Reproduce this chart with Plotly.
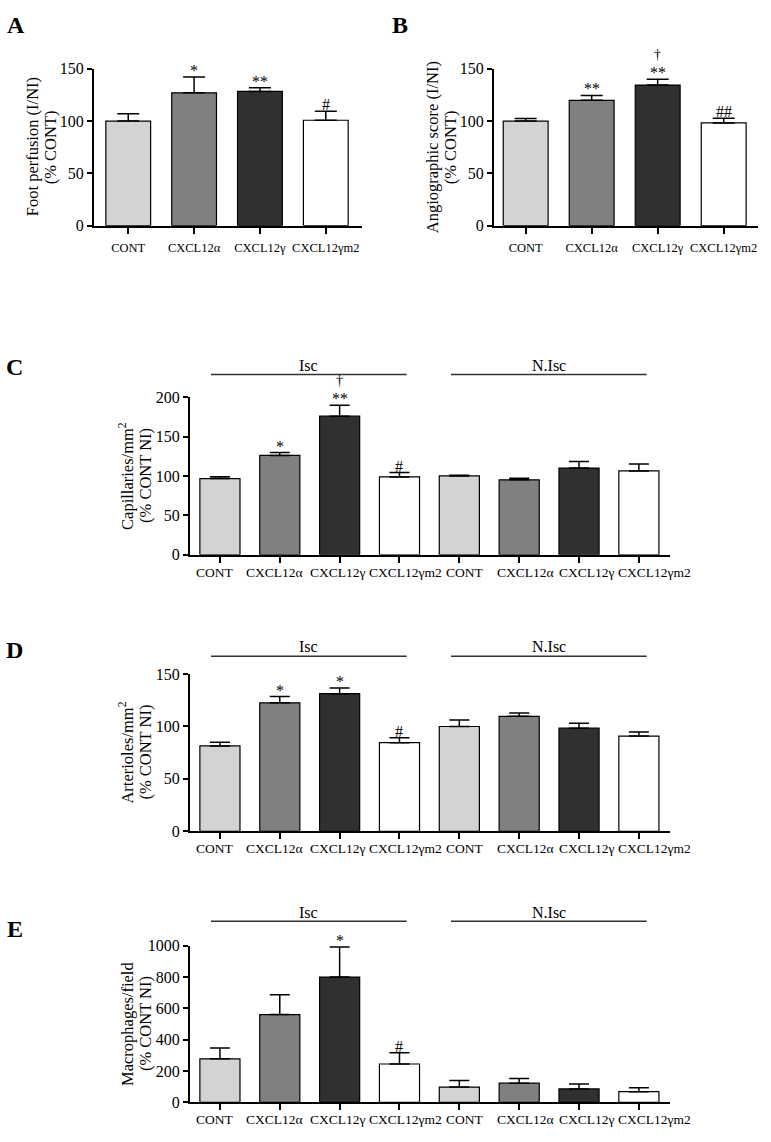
import plotly.graph_objects as go

W, H = 771, 1142
FONT = "Liberation Serif"

# ---------------- data ----------------
cats4 = ["CONT", "CXCL12α", "CXCL12γ", "CXCL12γm2"]
cats8 = cats4 + cats4
groups = ["Isc", "N.Isc"]
colors4 = ["#d3d3d3", "#808080", "#303030", "#ffffff"]

A_mean = [100, 127, 128.4, 100.8]
A_top = [107, 142.2, 131.8, 109.5]
A_sig = ["", "*", "**", "#"]
A_dag = ["", "", "", ""]

B_mean = [100, 119.8, 134.4, 98.2]
B_top = [102.4, 124.5, 140, 102.6]
B_sig = ["", "**", "**", "##"]
B_dag = ["", "", "†", ""]

C_mean = [96.6, 126, 175.8, 98.7, 100, 95, 110, 106.3]
C_top = [98.8, 129.6, 189.6, 104.2, 101, 97.1, 118.3, 115]
C_sig = ["", "*", "**", "#", "", "", "", ""]
C_dag = ["", "", "†", "", "", "", "", ""]

D_mean = [81.4, 122.5, 131.2, 84.5, 99.9, 109.6, 98.3, 90.8]
D_top = [84.9, 128.4, 136.5, 89.2, 106.2, 112.7, 103, 94.6]
D_sig = ["", "*", "*", "#", "", "", "", ""]
D_dag = ["", "", "", "", "", "", "", ""]

E_mean = [278, 560, 799, 245, 98, 123, 86, 69]
E_top = [347, 686, 990, 316, 140, 153, 117, 94]
E_sig = ["", "", "*", "#", "", "", "", ""]
E_dag = ["", "", "", "", "", "", "", ""]

# horizontal nudges (px) of the category labels in the wide panels (style)
LABEL_SHIFT = [-5, -5, -2, 6, 6, 6, 8, 16]


def px(x):
    return x / W


def py(y):
    return 1 - y / H


panels = [
    dict(letter="A", cats=cats4, mean=A_mean, top=A_top, sig=A_sig, dag=A_dag,
         xd=(94, 362), yd=(221, 61.7), xr=[-0.52, 3.55], yr=[0, 150], dt=50,
         t1="Foot perfusion (I/NI)", t2="(% CONT)", tx=(32, 50), lpos=(16, 17),
         bw=0.68, cap=11, groups=False),
    dict(letter="B", cats=cats4, mean=B_mean, top=B_top, sig=B_sig, dag=B_dag,
         xd=(494, 758), yd=(221, 61.7), xr=[-0.48, 3.52], yr=[0, 150], dt=50,
         t1="Angiographic score (I/NI)", t2="(% CONT)", tx=(432, 450), lpos=(400, 17),
         bw=0.68, cap=11, groups=False),
    dict(letter="C", cats=cats8, mean=C_mean, top=C_top, sig=C_sig, dag=C_dag,
         xd=(190, 670), yd=(555, 395), xr=[-0.5, 7.52], yr=[0, 200], dt=50,
         t1="Capillaries/mm<sup>2</sup>", t2="(% CONT NI)", tx=(127, 146), lpos=(14, 364),
         bw=0.67, cap=10, groups=True, gl=372, gt=363),
    dict(letter="D", cats=cats8, mean=D_mean, top=D_top, sig=D_sig, dag=D_dag,
         xd=(190, 670), yd=(835.7, 676), xr=[-0.5, 7.52], yr=[0, 150], dt=50,
         t1="Arterioles/mm<sup>2</sup>", t2="(% CONT NI)", tx=(127, 146), lpos=(14, 652),
         bw=0.67, cap=10, groups=True, gl=658, gt=648),
    dict(letter="E", cats=cats8, mean=E_mean, top=E_top, sig=E_sig, dag=E_dag,
         xd=(190, 670), yd=(1111, 951.7), xr=[-0.5, 7.52], yr=[0, 1000], dt=200,
         t1="Macrophages/field", t2="(% CONT NI)", tx=(128, 146), lpos=(15, 935),
         bw=0.67, cap=10, groups=True, gl=927, gt=918),
]

fig = go.Figure()
layout = dict(width=W, height=H, margin=dict(l=0, r=0, t=0, b=0),
              paper_bgcolor="white", plot_bgcolor="white", showlegend=False,
              font=dict(family=FONT, color="black", size=14))
annotations = []
shapes = []

for k, p in enumerate(panels, start=1):
    n = len(p["cats"])
    xs = list(range(n))
    cols = colors4 * (n // 4)
    fig.add_trace(go.Bar(
        x=xs, y=p["mean"], width=p["bw"],
        marker=dict(color=cols, line=dict(color="black", width=1.2)),
        error_y=dict(type="data", symmetric=False,
                     array=[t - m for t, m in zip(p["top"], p["mean"])],
                     arrayminus=[0] * n, color="black", thickness=1.5, width=p["cap"]),
        xaxis=f"x{k}", yaxis=f"y{k}", hoverinfo="skip"))

    wide = p["groups"]
    layout[f"xaxis{k}"] = dict(
        domain=[px(p["xd"][0]), px(p["xd"][1])], range=p["xr"], anchor=f"y{k}",
        tickmode="array", tickvals=xs, ticktext=p["cats"],
        showticklabels=not wide, ticklabelstandoff=3,
        showline=True, linecolor="black", linewidth=2,
        ticks="outside", ticklen=6, tickwidth=2, tickcolor="black",
        showgrid=False, zeroline=False, tickangle=0,
        tickfont=dict(family=FONT, size=12.5, color="black"))
    layout[f"yaxis{k}"] = dict(
        domain=[py(p["yd"][0]), py(p["yd"][1])], range=p["yr"], anchor=f"x{k}",
        dtick=p["dt"], tick0=0,
        showline=True, linecolor="black", linewidth=2,
        ticks="outside", ticklen=5, tickwidth=2, tickcolor="black",
        showgrid=False, zeroline=False,
        tickfont=dict(family=FONT, size=16, color="black"))

    # category labels of the wide panels (nudged like the original)
    if wide:
        for i, c in enumerate(p["cats"]):
            annotations.append(dict(
                x=i, y=0, xref=f"x{k}", yref=f"y{k} domain", text=c,
                showarrow=False, xanchor="center", yanchor="top",
                xshift=LABEL_SHIFT[i], yshift=-9, borderpad=0,
                font=dict(family=FONT, size=13.5, color="black")))

    # significance marks
    for i in range(n):
        if p["sig"][i]:
            annotations.append(dict(
                x=i, y=p["top"][i], xref=f"x{k}", yref=f"y{k}", text=p["sig"][i],
                showarrow=False, yanchor="bottom", yshift=-3, borderpad=0,
                font=dict(family=FONT, size=16, color="black")))
        if p["dag"][i]:
            annotations.append(dict(
                x=i, y=p["top"][i], xref=f"x{k}", yref=f"y{k}", text=p["dag"][i],
                showarrow=False, yanchor="bottom", yshift=16, borderpad=0,
                font=dict(family=FONT, size=14, color="black")))

    # y-axis title (two lines)
    yc = (p["yd"][0] + p["yd"][1]) / 2
    for txt, xx in zip([p["t1"], p["t2"]], p["tx"]):
        annotations.append(dict(
            x=px(xx), y=py(yc), xref="paper", yref="paper", text=txt,
            textangle=-90, showarrow=False, xanchor="center", yanchor="middle",
            font=dict(family=FONT, size=16.5, color="black")))

    # panel letter
    annotations.append(dict(
        x=px(p["lpos"][0]), y=py(p["lpos"][1]), xref="paper", yref="paper",
        text=f"<b>{p['letter']}</b>", showarrow=False,
        xanchor="center", yanchor="middle",
        font=dict(family=FONT, size=24, color="black")))

    # group lines
    if wide:
        spans = [(-0.15, 3.12), (3.86, 7.13)]
        for g, (a, b) in zip(groups, spans):
            shapes.append(dict(type="line", xref=f"x{k}", yref="paper",
                               x0=a, x1=b, y0=py(p["gl"]), y1=py(p["gl"]),
                               line=dict(color="#333333", width=1.5)))
            annotations.append(dict(
                x=(a + b) / 2, y=py(p["gt"]), xref=f"x{k}", yref="paper", text=g,
                showarrow=False, xanchor="center", yanchor="middle",
                font=dict(family=FONT, size=16, color="black")))

layout["annotations"] = annotations
layout["shapes"] = shapes
fig.update_layout(**layout)
fig.write_html(
    "out.html",
    config={"displayModeBar": False},
    post_script=(
        "document.documentElement.style.margin='0';"
        "document.documentElement.style.padding='0';"
        "document.documentElement.style.overflow='hidden';"
        "document.body.style.margin='0';"
        "document.body.style.padding='0';"
        "document.body.style.overflow='hidden';"
    ),
)
